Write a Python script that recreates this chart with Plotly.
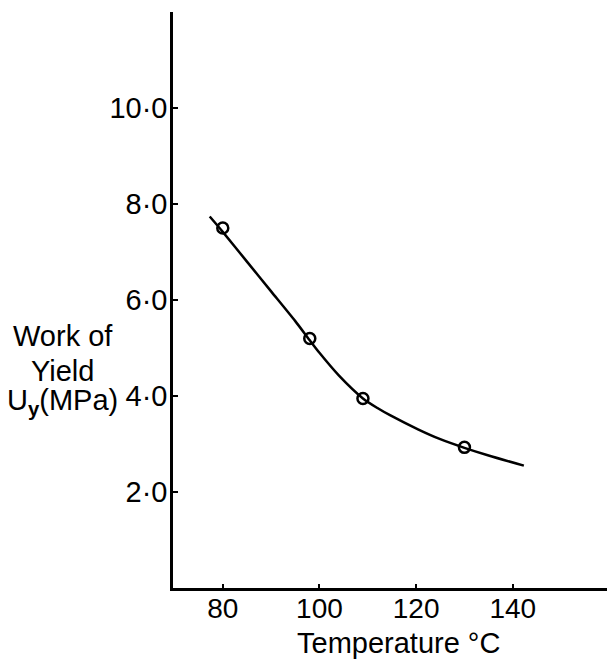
import plotly.graph_objects as go

# measured data points
temp_pts = [80, 98, 109, 130]
work_pts = [7.5, 5.2, 3.95, 2.93]

# fitted curve
curve_temp = [77.3, 80, 85, 90, 95, 98, 100, 104, 109, 112, 114.6, 120.5, 125, 130, 135, 142.3]
curve_work = [7.74, 7.42, 6.80, 6.18, 5.56, 5.16, 4.90, 4.43, 3.95, 3.75, 3.60, 3.30, 3.10, 2.92, 2.76, 2.55]

x_ticks = [80, 100, 120, 140]
y_ticks = [2, 4, 6, 8, 10]
y_ticktext = ["2·0", "4·0", "6·0", "8·0", "10·0"]

FONT = "Liberation Sans Narrow, Liberation Sans, sans-serif"
FONT2 = "Liberation Sans, DejaVu Sans, sans-serif"

fig = go.Figure()
fig.add_trace(go.Scatter(x=curve_temp, y=curve_work, mode="lines",
                         line=dict(color="black", width=2.5, shape="spline", smoothing=0.7),
                         hoverinfo="skip", showlegend=False))
fig.add_trace(go.Scatter(x=temp_pts, y=work_pts, mode="markers",
                         marker=dict(symbol="circle-open", size=11, color="black",
                                     line=dict(width=2.5, color="black")),
                         showlegend=False))

fig.update_layout(
    width=607, height=661,
    margin=dict(l=173, r=0, t=12, b=73),
    paper_bgcolor="white", plot_bgcolor="white",
    xaxis=dict(range=[69.7, 159.5], showgrid=False, zeroline=False,
               showline=True, linecolor="black", linewidth=2.5,
               tickmode="array", tickvals=x_ticks, ticks="inside", ticklen=4,
               tickwidth=2, tickcolor="black", ticklabelstandoff=-6,
               tickfont=dict(family=FONT, size=28, color="black")),
    yaxis=dict(range=[0, 12], showgrid=False, zeroline=False,
               showline=True, linecolor="black", linewidth=2.5,
               tickmode="array", tickvals=y_ticks, ticktext=y_ticktext,
               ticks="inside", ticklen=5, tickwidth=2, tickcolor="black",
               ticklabelstandoff=-3,
               tickfont=dict(family=FONT, size=29, color="black")),
)

ylab_lines = ["Work of", "Yield", "U<sub><b>y</b></sub>(MPa)"]
ylab_pos = [0.4375, 0.3767, 0.3229]
for txt, yp in zip(ylab_lines, ylab_pos):
    fig.add_annotation(text=txt, xref="paper", yref="paper", x=-0.2535, y=yp,
                       xanchor="center", yanchor="middle", showarrow=False,
                       font=dict(family=FONT2, size=29, color="black"))

fig.add_annotation(text="Temperature °C", xref="paper", yref="paper",
                   x=0.5196, y=-0.096, xanchor="center", yanchor="middle",
                   showarrow=False, font=dict(family=FONT2, size=29, color="black"))

fig.write_html("out.html")
